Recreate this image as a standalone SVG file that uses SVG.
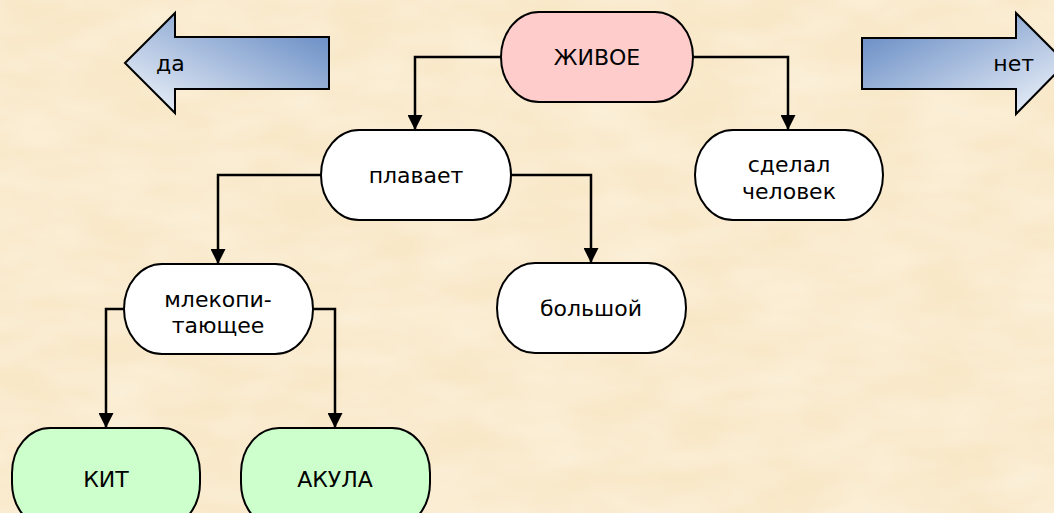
<svg xmlns="http://www.w3.org/2000/svg" width="1054" height="513" viewBox="0 0 1054 513">
  <style>
    .node { stroke: #000; stroke-width: 2; }
    .plain { fill: #ffffff; }
    .root { fill: #ffcccc; }
    .leaf { fill: #ccffcc; }
    .lbl { font-family: "DejaVu Sans", "Noto Sans", sans-serif; font-size: 22px; fill: #000; text-anchor: middle; dominant-baseline: central; }
    .conn { fill: none; stroke: #000; stroke-width: 2.5; marker-end: url(#ah); }
    .big { stroke: #000; stroke-width: 2; }
  </style>
  <defs>
    <marker id="ah" markerUnits="userSpaceOnUse" markerWidth="15" markerHeight="15" refX="15" refY="7.5" orient="auto">
      <path d="M0,0 L15,7.5 L0,15 z" fill="#000"/>
    </marker>
    <linearGradient id="gl" x1="0" y1="1" x2="1" y2="0">
      <stop offset="0" stop-color="#f4f7fc"/>
      <stop offset="1" stop-color="#5a82bf"/>
    </linearGradient>
    <linearGradient id="gr" x1="0" y1="0" x2="1" y2="1">
      <stop offset="0" stop-color="#5a82bf"/>
      <stop offset="1" stop-color="#f4f7fc"/>
    </linearGradient>
    <filter id="tex" x="0" y="0" width="100%" height="100%">
      <feTurbulence type="fractalNoise" baseFrequency="0.012 0.03" numOctaves="3" seed="4"/>
      <feColorMatrix type="matrix" values="0 0 0 0 1  0 0 0 0 0.97  0 0 0 0 0.9  0 0 0 0.6 -0.15"/>
    </filter>
  </defs>

  <rect x="0" y="0" width="1054" height="513" fill="#f9e8c8"/>
  <rect x="0" y="0" width="1054" height="513" filter="url(#tex)"/>

  <g id="arrow-da">
    <path class="big" fill="url(#gl)" d="M125,63 L175,13 L175,37 L329,37 L329,89 L175,89 L175,113 Z"/>
    <text class="lbl" x="156" y="63" style="text-anchor:start">да</text>
  </g>
  <g id="arrow-net">
    <path class="big" fill="url(#gr)" d="M862,38 L1016,38 L1016,13 L1066,63 L1016,114 L1016,89 L862,89 Z"/>
    <text class="lbl" x="1034" y="63" style="text-anchor:end">нет</text>
  </g>

  <g id="connectors">
    <path class="conn" d="M501,57 H415 V130"/>
    <path class="conn" d="M693,57 H788 V130"/>
    <path class="conn" d="M321,175 H218 V264"/>
    <path class="conn" d="M511,175 H591 V263"/>
    <path class="conn" d="M124,309 H106 V428"/>
    <path class="conn" d="M313,309 H335 V428"/>
  </g>

  <g id="n-zhivoe">
    <rect class="node root" x="501" y="12" width="192" height="90" rx="38" ry="45"/>
    <text class="lbl" x="597" y="57">ЖИВОЕ</text>
  </g>
  <g id="n-plavaet">
    <rect class="node plain" x="321" y="130" width="190" height="90" rx="38" ry="45"/>
    <text class="lbl" x="416" y="175">плавает</text>
  </g>
  <g id="n-sdelal">
    <rect class="node plain" x="695" y="130" width="188" height="90" rx="38" ry="45"/>
    <text class="lbl" x="789" y="164">сделал</text>
    <text class="lbl" x="789" y="191">человек</text>
  </g>
  <g id="n-mlekop">
    <rect class="node plain" x="124" y="264" width="189" height="90" rx="38" ry="45"/>
    <text class="lbl" x="218" y="299">млекопи-</text>
    <text class="lbl" x="218" y="325">тающее</text>
  </g>
  <g id="n-bolshoy">
    <rect class="node plain" x="497" y="263" width="189" height="90" rx="38" ry="45"/>
    <text class="lbl" x="591" y="308">большой</text>
  </g>
  <g id="n-kit">
    <rect class="node leaf" x="12" y="428" width="188" height="100" rx="38" ry="45"/>
    <text class="lbl" x="106" y="479">КИТ</text>
  </g>
  <g id="n-akula">
    <rect class="node leaf" x="241" y="428" width="189" height="100" rx="38" ry="45"/>
    <text class="lbl" x="335" y="479">АКУЛА</text>
  </g>
</svg>
